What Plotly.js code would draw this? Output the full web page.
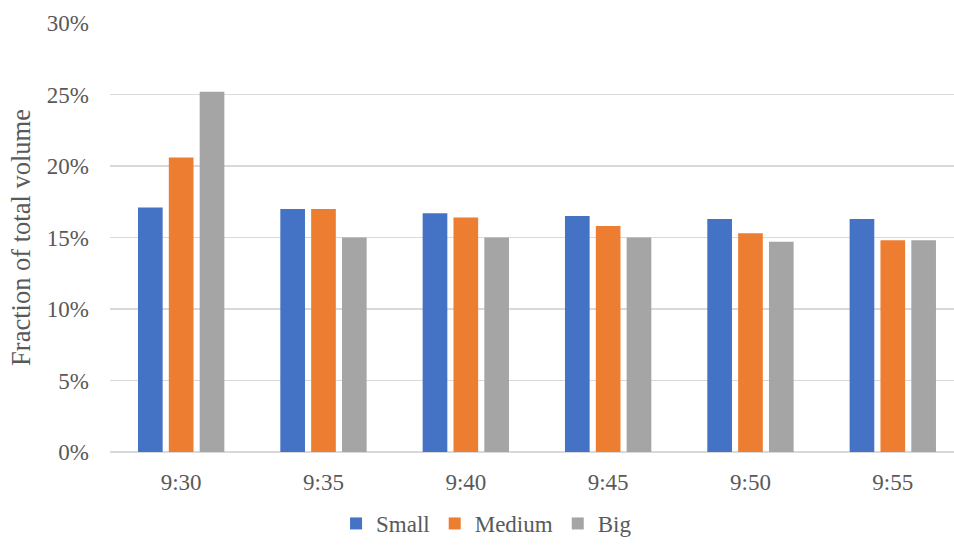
<!DOCTYPE html>
<html>
<head>
<meta charset="utf-8">
<script src="https://cdn.plot.ly/plotly-3.0.1.min.js"></script>
<style>
  html, body { margin: 0; padding: 0; background: #ffffff; }
  #chart { width: 954px; height: 545px; }
</style>
</head>
<body>
<div id="chart"></div>
<script>
// Time buckets after the open
const times = ['9:30', '9:35', '9:40', '9:45', '9:50', '9:55'];

// Share of total traded volume per bucket, by order size
const small  = [0.171, 0.170, 0.167, 0.165, 0.163, 0.163];
const medium = [0.206, 0.170, 0.164, 0.158, 0.153, 0.148];
const big    = [0.252, 0.150, 0.150, 0.150, 0.147, 0.148];

const yTicks = [0, 0.05, 0.10, 0.15, 0.20, 0.25, 0.30];

const textColor = '#595959';
const fontFamily = 'Liberation Serif, Times New Roman, serif';

const series = [
  { name: 'Small',  y: small,  color: '#4472C4' },
  { name: 'Medium', y: medium, color: '#ED7D31' },
  { name: 'Big',    y: big,    color: '#A5A5A5' }
];

const traces = series.map(s => ({
  type: 'bar',
  name: s.name,
  x: times,
  y: s.y,
  marker: { color: s.color, line: { width: 0 } },
  hoverinfo: 'x+y+name'
}));

const layout = {
  width: 954,
  height: 545,
  paper_bgcolor: '#ffffff',
  plot_bgcolor: '#ffffff',
  font: { family: fontFamily, color: textColor, size: 23 },
  margin: { l: 110, r: 0, t: 22.5, b: 93.3, pad: 0 },
  barmode: 'group',
  bargap: 0.35,
  bargroupgap: 0.2,
  showlegend: true,
  legend: {
    orientation: 'h',
    xref: 'container',
    yref: 'container',
    x: 0.51,
    xanchor: 'center',
    y: 0,
    yanchor: 'bottom',
    borderwidth: 0,
    font: { family: fontFamily, color: textColor, size: 23 },
    itemwidth: 30,
    traceorder: 'normal'
  },
  xaxis: {
    type: 'category',
    range: [-0.5, 5.43],
    showgrid: false,
    zeroline: false,
    showline: false,
    ticks: '',
    ticklabelstandoff: 14,
    tickfont: { family: fontFamily, color: textColor, size: 23 },
    fixedrange: true
  },
  yaxis: {
    range: [0, 0.30],
    tickvals: yTicks,
    tickformat: '.0%',
    showgrid: true,
    gridcolor: '#D9D9D9',
    gridwidth: 1.5,
    zeroline: true,
    zerolinecolor: '#D9D9D9',
    zerolinewidth: 1.5,
    showline: false,
    ticks: '',
    ticklabelstandoff: 20,
    tickfont: { family: fontFamily, color: textColor, size: 23 },
    automargin: true,
    title: {
      text: 'Fraction of total volume',
      font: { family: fontFamily, color: textColor, size: 26.5 },
      standoff: 8
    },
    fixedrange: true
  }
};

Plotly.newPlot('chart', traces, layout, { displayModeBar: false, staticPlot: true });
</script>
</body>
</html>
